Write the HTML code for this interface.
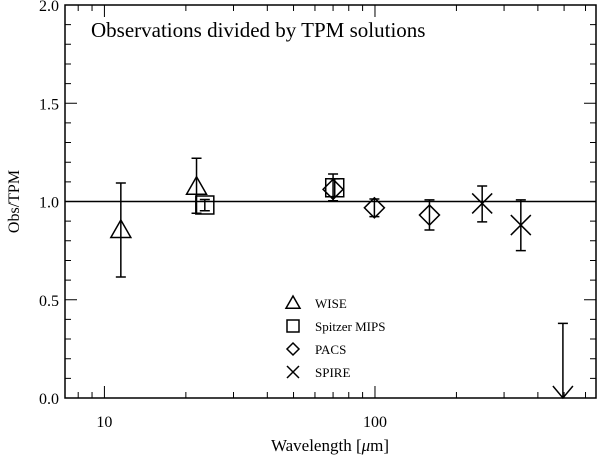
<!DOCTYPE html>
<html><head><meta charset="utf-8"><style>
body{margin:0;background:#fff}
svg{display:block;font-family:"Liberation Serif",serif}
</style></head><body>
<svg id="chart" width="600" height="462" viewBox="0 0 600 462"></svg>
<script>
const wiseX=[11.5,21.9], wiseY=[0.855,1.075], wiseLo=[0.616,0.94], wiseHi=[1.094,1.22];
const mipsX=[23.5,71], mipsY=[0.982,1.07], mipsLo=[0.953,1.025], mipsHi=[1.01,1.115];
const pacsX=[70,99.5,159], pacsY=[1.062,0.968,0.931], pacsLo=[1.004,0.923,0.855], pacsHi=[1.14,1.013,1.008];
const spireX=[249,346], spireY=[0.99,0.88], spireLo=[0.896,0.75], spireHi=[1.079,1.008];
const limitX=[495], limitY=[0.38];
const yTicks=[0,0.5,1.0,1.5,2.0], yTickLabels=["0.0","0.5","1.0","1.5","2.0"];
const xTicks=[10,100], xTickLabels=["10","100"];
const xMin=7.15,xMax=656,yMin=0,yMax=2;
const L=65,R=596,T=5,B=398;
const sx=v=>L+(Math.log10(v)-Math.log10(xMin))/(Math.log10(xMax)-Math.log10(xMin))*(R-L);
const sy=v=>B-(v-yMin)/(yMax-yMin)*(B-T);
const svg=document.getElementById('chart');
const NS='http://www.w3.org/2000/svg';
function mk(tag,attrs,parent){const e=document.createElementNS(NS,tag);for(const k in attrs)e.setAttribute(k,attrs[k]);(parent||svg).appendChild(e);return e;}
const st={stroke:'#000','stroke-width':1.5,fill:'none'};
// frame
const fr=mk('rect',{x:L,y:T,width:R-L,height:B-T,...st});


// y ticks
for(let i=0;i<=20;i++){const v=i*0.1;const y=sy(v);const len=i%5===0?12:6;
 const t=mk('path',{d:`M${L},${y}H${L+len}M${R},${y}H${R-len}`,stroke:'#000','stroke-width':1});
 
 }
yTicks.forEach((v,i)=>{const t=mk('text',{x:L-6,y:sy(v)+6,'text-anchor':'end','font-size':16});t.textContent=yTickLabels[i];
 
 });
// x ticks
for(let d=1;d<=100;d*=10){for(let m=1;m<=9;m++){const v=m*d;if(v<xMin||v>xMax)continue;const x=sx(v);const len=m===1?12:6;
 const t=mk('path',{d:`M${x},${B}V${B-len}M${x},${T}V${T+len}`,stroke:'#000','stroke-width':1});
 
 }}
xTicks.forEach((v,i)=>{const t=mk('text',{x:sx(v),y:B+29,'text-anchor':'middle','font-size':16});t.textContent=xTickLabels[i];
 
 });
const xt=mk('text',{x:330,y:451,'text-anchor':'middle','font-size':17});xt.innerHTML='Wavelength [<tspan font-style="italic">μ</tspan>m]';


const yt=mk('text',{x:0,y:0,'text-anchor':'middle','font-size':16,transform:`translate(19,${sy(1)}) rotate(-90)`});yt.textContent='Obs/TPM';


const tt=mk('text',{x:91,y:37,'font-size':21});tt.textContent='Observations divided by TPM solutions';


// reference line
const rl=mk('line',{x1:L,x2:R,y1:sy(1),y2:sy(1),stroke:'#000','stroke-width':1.5});


function sym(type,x,y,s){let d;
 if(type==='tri')d=`M${x},${y-s}L${x+s},${y+s*0.75}L${x-s},${y+s*0.75}Z`;
 else if(type==='sq')d=`M${x-s},${y-s}H${x+s}V${y+s}H${x-s}Z`;
 else if(type==='dia')d=`M${x},${y-s}L${x+s},${y}L${x},${y+s}L${x-s},${y}Z`;
 else d=`M${x-s},${y-s}L${x+s},${y+s}M${x+s},${y-s}L${x-s},${y+s}`;
 return mk('path',{d,...st});}
function series(name,type,X,Y,Lo,Hi,s){X.forEach((v,i)=>{const x=sx(v);
 const e=mk('path',{d:`M${x},${sy(Lo[i])}V${sy(Hi[i])}M${x-5},${sy(Lo[i])}h10M${x-5},${sy(Hi[i])}h10`,...st});
 
 
 const p=sym(type,x,sy(Y[i]),s);
 
 });}
series('wise','tri',wiseX,wiseY,wiseLo,wiseHi,10);
series('mips','sq',mipsX,mipsY,mipsLo,mipsHi,9);
series('pacs','dia',pacsX,pacsY,pacsLo,pacsHi,10);
series('spire','x',spireX,spireY,spireLo,spireHi,10);
limitX.forEach((v,i)=>{const x=sx(v);
 const a=mk('path',{d:`M${x-5},${sy(limitY[i])}h10M${x},${sy(limitY[i])}V${B}M${x-10},${B-12}L${x},${B}L${x+10},${B-12}`,...st});
 
 });
// legend
const leg=[['tri','WISE'],['sq','Spitzer MIPS'],['dia','PACS'],['x','SPIRE']];
leg.forEach((l,i)=>{const y=303+i*23;const g=sym(l[0],293,y,l[0]==='tri'?7:6);
 
 
 const t=mk('text',{x:315,y:y+5,'font-size':13});t.textContent=l[1];
 
 });
</script>
</body></html>
